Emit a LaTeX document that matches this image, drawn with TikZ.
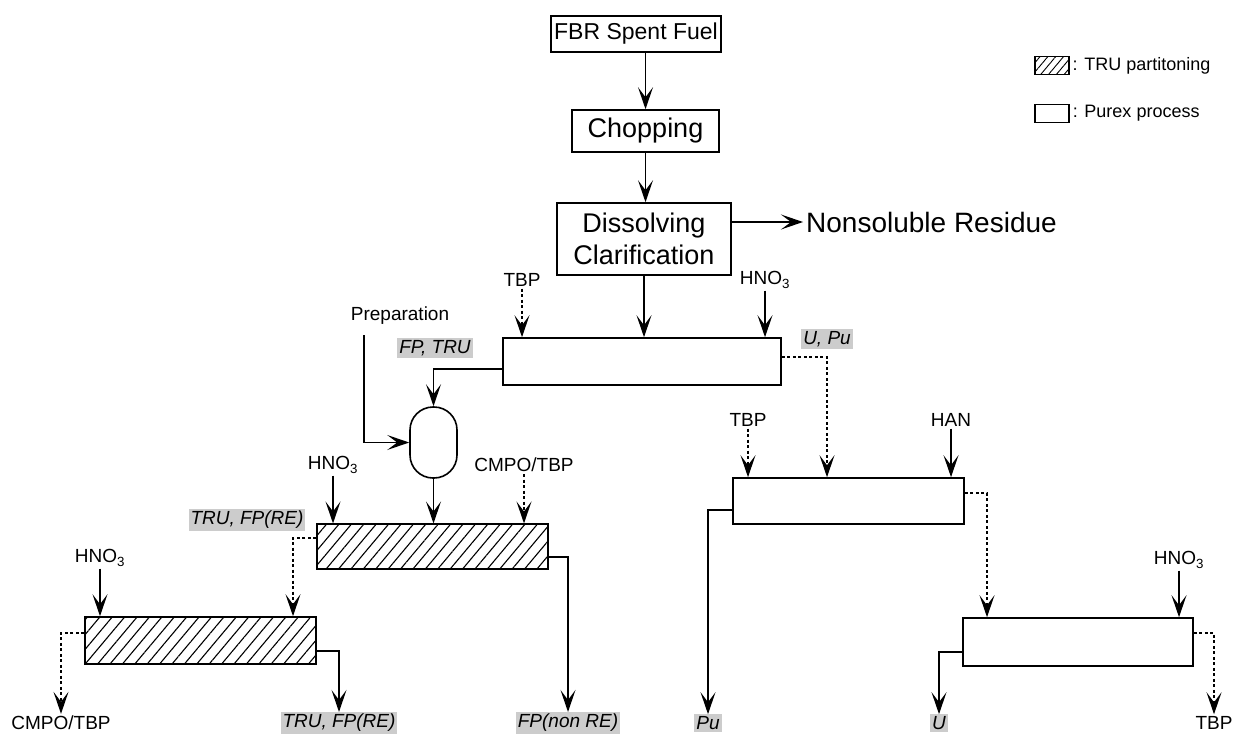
\documentclass[tikz,border=0pt]{standalone}
\usepackage{fontspec}
\setmainfont{Liberation Sans}
\usepackage{tikz}
\usetikzlibrary{arrows.meta,positioning,patterns.meta,calc}
\newcommand{\boxtxt}{\fontsize{27}{32}\selectfont}
\newcommand{\feedtxt}{\fontsize{19}{22}\selectfont}
\newcommand{\legtxt}{\fontsize{18}{21}\selectfont}

\begin{document}
\begin{tikzpicture}[x=1pt,y=-1pt,
  unit/.style={draw,line width=1.6pt,inner sep=0pt,font=\boxtxt},
  purex/.style={draw,line width=1.6pt,inner sep=0pt},
  tru/.style={purex,pattern={Lines[angle=50,distance=9.5pt,line width=1.1pt]}},
  feed/.style={inner sep=2pt,font=\feedtxt},
  strm/.style={inner sep=2pt,fill=black!20,font=\feedtxt\itshape},
  arr/.style={-{Stealth[length=22pt,width=15pt,inset=10pt]},line width=1.5pt},
  dots/.style={dash pattern=on 3pt off 2.5pt}]
  \useasboundingbox (0,0) rectangle (1233,736);

  \node[unit,minimum width=170pt,minimum height=36pt,
        font=\fontsize{23}{27}\selectfont] (fuel) at (636,34) {FBR Spent Fuel};
  \node[unit,minimum width=147pt,minimum height=42pt] (chop) at (645.5,131) {Chopping};
  \node[unit,minimum width=174pt,minimum height=72pt,align=center]
    (diss) at (644,239) {Dissolving\\Clarification};
  \node[anchor=west,inner sep=3pt,font=\fontsize{28}{32}\selectfont]
    (resid) at (803,222) {Nonsoluble Residue};

  \node[purex,minimum width=278pt,minimum height=47pt] (ext) at (642,361.5) {};
  \node[purex,minimum width=231pt,minimum height=46pt] (part) at (848.5,501) {};
  \node[purex,minimum width=230pt,minimum height=48pt] (strip) at (1078,642) {};
  \node[tru,minimum width=231pt,minimum height=45pt] (truext) at (432.5,546.5) {};
  \node[tru,minimum width=231pt,minimum height=47pt] (truback) at (200.5,640.5) {};
  \node[draw,line width=1.6pt,minimum width=47pt,minimum height=71pt,
        rounded corners=23pt] (adj) at (433.5,442.5) {};

  \foreach \fname/\fx/\fy/\ftxt/\fto/\fline in {
    tbpa/522/280/TBP/ext/dots,
    hnoa/765/280/HNO\textsubscript{3}/ext/solid,
    tbpb/748/420/TBP/part/dots,
    han/951/420/HAN/part/solid,
    hnob/1179/560/HNO\textsubscript{3}/strip/solid,
    hnoc/333/465/HNO\textsubscript{3}/truext/solid,
    cmpo/524/465/{CMPO/TBP}/truext/dots,
    hnod/100/558/HNO\textsubscript{3}/truback/solid}
  {
    \node[feed] (\fname) at (\fx,\fy) {\ftxt};
    \draw[arr,\fline] (\fname.south) -- (\fname.south |- \fto.north);
  }

  \node[feed] (prep) at (400,316) {Preparation};
  \node[strm] (fptru) at (435,348) {FP, TRU};
  \node[strm] (upu) at (827,339) {U, Pu};
  \node[strm] (trufpa) at (247,520) {TRU, FP(RE)};

  \node[feed] (cmpoout) at (61,723) {CMPO/TBP};
  \node[strm] (trufpb) at (339,723) {TRU, FP(RE)};
  \node[strm] (fpnon) at (568,723) {FP(non RE)};
  \node[strm] (puout) at (708,723) {Pu};
  \node[strm] (uout) at (939,723) {U};
  \node[feed] (tbpout) at (1214,723) {TBP};

  \draw[arr] (fuel.south -| chop.north) -- (chop.north);
  \draw[arr] (chop.south) -- (chop.south |- diss.north);
  \draw[arr] (diss.east |- resid.west) -- (resid.west);
  \draw[arr] (diss.south) -- (diss.south |- ext.north);
  \draw[arr] ([yshift=-7.5pt]ext.west) -| (adj.north);
  \draw[arr,dots] ([yshift=4.5pt]ext.east) -| (upu.south |- part.north);
  \draw[arr] ([xshift=-36pt,yshift=-8pt]prep.south) |- (adj.west);
  \draw[arr] (adj.south) -- (adj.south |- truext.north);
  \draw[arr,dots] ([yshift=8.5pt]truext.west) -| ([xshift=92.5pt]truback.north);
  \draw[arr] ([yshift=-10.5pt]truext.east) -| (fpnon.north);
  \draw[arr,dots] ([yshift=7.5pt]truback.west) -| (cmpoout.north);
  \draw[arr] ([yshift=-10.5pt]truback.east) -| (trufpb.north);
  \draw[arr] ([yshift=-9pt]part.west) -| (puout.north);
  \draw[arr,dots] ([yshift=8pt]part.east) -| ([xshift=-91pt]strip.north);
  \draw[arr] ([yshift=-10pt]strip.west) -| (uout.north);
  \draw[arr,dots] ([yshift=9pt]strip.east) -| (tbpout.north);

  \node[tru,minimum width=34pt,minimum height=18pt,line width=1.2pt,
        pattern={Lines[angle=50,distance=6pt,line width=0.9pt]}] (legtru) at (1052,65.5) {};
  \node[purex,minimum width=34pt,minimum height=18pt,line width=1.2pt] (legpur) at (1052,113.5) {};
  \node[anchor=west,inner sep=3pt,font=\legtxt] (legtrutxt) at (legtru.east) {: TRU partitoning};
  \node[anchor=west,inner sep=3pt,font=\legtxt] (legpurtxt) at (legpur.east) {: Purex process};
\end{tikzpicture}
\end{document}
